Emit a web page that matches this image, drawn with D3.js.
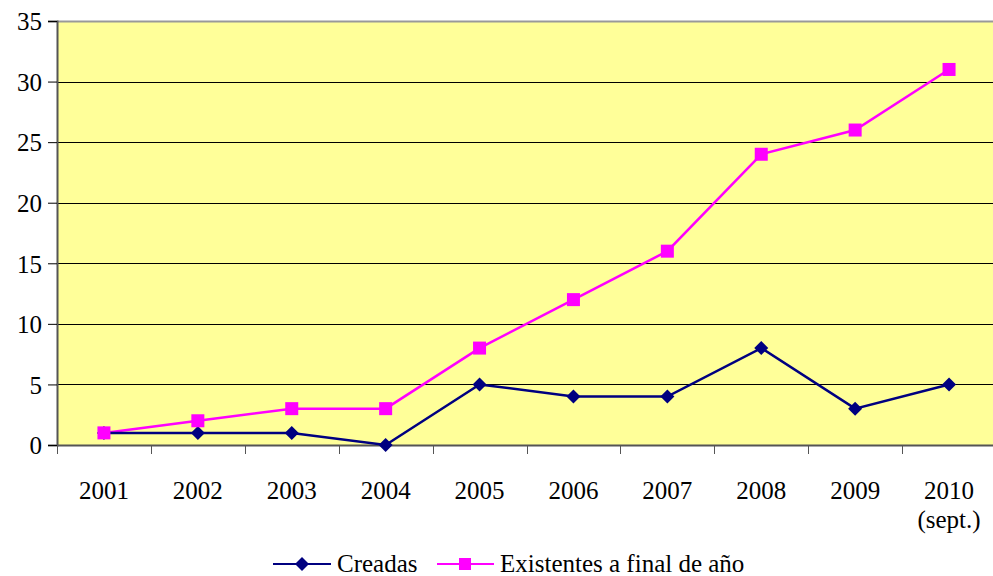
<!DOCTYPE html>
<html><head><meta charset="utf-8">
<script src="https://cdn.jsdelivr.net/npm/d3@7"></script>
</head><body style="margin:0">
<svg id="c" width="993" height="576" font-family="Liberation Serif" style="display:block"></svg>
<script>
const categories = ["2001","2002","2003","2004","2005","2006","2007","2008","2009","2010"];
const subLabels = ["","","","","","","","","","(sept.)"];
const creadas = [1,1,1,0,5,4,4,8,3,5];
const existentes = [1,2,3,3,8,12,16,24,26,31];
const yTicks = [0,5,10,15,20,25,30,35];
const seriesNames = ["Creadas","Existentes a final de año"];

const FONT = "'Liberation Serif'";
const svg = d3.select("#c");
const L = 57, R = 996, T = 21, B = 445;
const x = d3.scaleBand().domain(categories).range([L, R]).padding(0);
const y = d3.scaleLinear().domain([0,35]).range([B, T]);
function ff(sel){ return sel.attr("font-family","Liberation Serif").style("font-family",FONT,"important").style("font-size","25px","important"); }

svg.append("rect").attr("x",L).attr("y",T).attr("width",R-L).attr("height",B-T).attr("fill","#FFFF99");
svg.append("g").selectAll("line").data(yTicks.filter(d=>d>0&&d<35)).join("line")
  .attr("x1",L).attr("x2",R).attr("y1",d=>Math.round(y(d))+0.5).attr("y2",d=>Math.round(y(d))+0.5)
  .attr("stroke","#000").attr("stroke-width",1);
svg.append("line").attr("x1",L).attr("x2",R).attr("y1",T+0.5).attr("y2",T+0.5).attr("stroke","#999").attr("stroke-width",2);

const ya = svg.append("g").attr("transform",`translate(${L},0)`)
  .call(d3.axisLeft(y).tickValues(yTicks).tickSize(9).tickPadding(6));
ya.attr("font-family","Liberation Serif").attr("font-size",25);
ya.select(".domain").attr("stroke","#555").attr("stroke-width",2);
ya.selectAll(".tick line").attr("stroke","#000");
ff(ya.selectAll("text")).attr("fill","#000").attr("dy","0.35em");

const xa = svg.append("g").attr("transform",`translate(0,${B})`);
xa.append("line").attr("x1",L).attr("x2",R).attr("y1",0.5).attr("y2",0.5).attr("stroke","#555").attr("stroke-width",2);
const bounds = categories.map(c=>x(c)).concat([x(categories[categories.length-1])+x.bandwidth()]);
xa.selectAll("line.t").data(bounds).join("line").attr("class","t")
  .attr("x1",d=>Math.round(d)+0.5).attr("x2",d=>Math.round(d)+0.5).attr("y1",0).attr("y2",9).attr("stroke","#555");
ff(xa.selectAll("text.l").data(categories).join("text").attr("class","l")
  .attr("x",d=>x(d)+x.bandwidth()/2).attr("y",54).attr("text-anchor","middle")).text(d=>d);
ff(xa.selectAll("text.s").data(categories).join("text").attr("class","s")
  .attr("x",d=>x(d)+x.bandwidth()/2).attr("y",83).attr("text-anchor","middle")).text((d,i)=>subLabels[i]);

const cx = d=>x(d)+x.bandwidth()/2;
const line = d3.line().x((d,i)=>cx(categories[i])).y(d=>y(d));

svg.append("path").datum(existentes).attr("d",line).attr("fill","none").attr("stroke","#FF00FF").attr("stroke-width",2.5);
svg.append("path").datum(creadas).attr("d",line).attr("fill","none").attr("stroke","#000080").attr("stroke-width",2.5);

function drawDiamond(g, cxv, cyv, s){
  g.append("path").attr("d",`M${cxv},${cyv-s}L${cxv+s},${cyv}L${cxv},${cyv+s}L${cxv-s},${cyv}Z`).attr("fill","#000080");
}
const gd = svg.append("g");
creadas.forEach((v,i)=>drawDiamond(gd, cx(categories[i]), y(v), 7));
svg.append("g").selectAll("rect").data(existentes).join("rect")
  .attr("x",(d,i)=>cx(categories[i])-6.5).attr("y",d=>y(d)-6.5).attr("width",13).attr("height",13).attr("fill","#FF00FF");

const lg = svg.append("g");
lg.append("line").attr("x1",273).attr("x2",331).attr("y1",564).attr("y2",564).attr("stroke","#000080").attr("stroke-width",2);
drawDiamond(lg, 302, 564, 7);
ff(lg.append("text").attr("x",337).attr("y",572)).text(seriesNames[0]);
lg.append("line").attr("x1",437).attr("x2",494).attr("y1",564).attr("y2",564).attr("stroke","#FF00FF").attr("stroke-width",2);
lg.append("rect").attr("x",459).attr("y",558).attr("width",12).attr("height",12).attr("fill","#FF00FF");
ff(lg.append("text").attr("x",500).attr("y",572)).text(seriesNames[1]);
</script>
</body></html>
